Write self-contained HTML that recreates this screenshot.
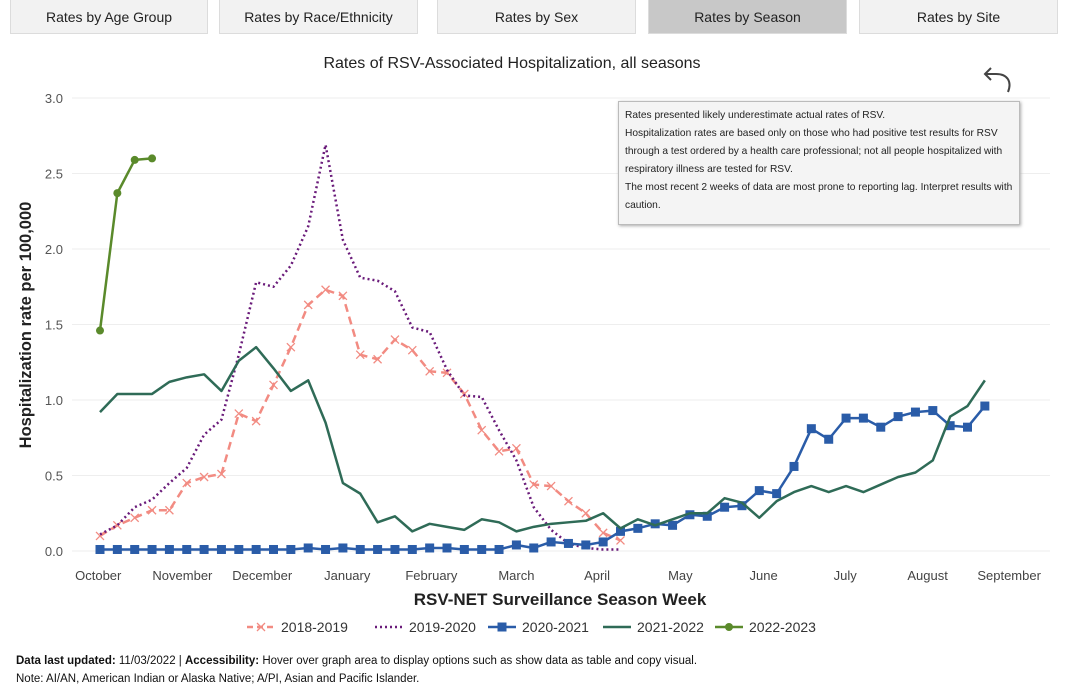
<!DOCTYPE html>
<html><head><meta charset="utf-8"><style>
body{margin:0;width:1080px;height:695px;background:#fff;font-family:"Liberation Sans",sans-serif;overflow:hidden;position:relative}
.tab{position:absolute;top:-2px;height:36px;background:#f2f2f2;border:1px solid #dcdcdc;box-sizing:border-box;text-align:center;line-height:36px;font-size:14px;color:#222}
.tab.sel{background:#c8c8c8}
#info{position:absolute;left:618px;top:101px;width:402px;height:124px;box-sizing:border-box;background:#f4f4f4;border:1px solid #bbb;box-shadow:1px 1px 3px #aaa;font-size:10.2px;line-height:18px;padding:5px 6px;color:#222}
.foot{position:absolute;left:16px;font-size:11.5px;color:#111}
</style></head><body>
<div class="tab" style="left:10px;width:198px">Rates by Age Group</div>
<div class="tab" style="left:219px;width:199px">Rates by Race/Ethnicity</div>
<div class="tab" style="left:437px;width:199px">Rates by Sex</div>
<div class="tab sel" style="left:648px;width:199px">Rates by Season</div>
<div class="tab" style="left:859px;width:199px">Rates by Site</div>
<svg id="chart" width="1080" height="695" style="position:absolute;left:0;top:0">
<text x="512" y="68" text-anchor="middle" font-size="16" fill="#222">Rates of RSV-Associated Hospitalization, all seasons</text>
<path d="M1008,92 C1012,82 1008,74 996,74 L986,74 M991,68 L985,74 L991,80" fill="none" stroke="#444" stroke-width="2"/>
<g id="grid"></g><g id="series"></g>
<text transform="translate(31,325) rotate(-90)" text-anchor="middle" font-size="16.5" font-weight="bold" fill="#222">Hospitalization rate per 100,000</text>
<text x="560" y="605" text-anchor="middle" font-size="17" font-weight="bold" fill="#222">RSV-NET Surveillance Season Week</text>
<g id="legend"></g>
</svg>
<div id="info">Rates presented likely underestimate actual rates of RSV.<br>Hospitalization rates are based only on those who had positive test results for RSV through a test ordered by a health care professional; not all people hospitalized with respiratory illness are tested for RSV.<br>The most recent 2 weeks of data are most prone to reporting lag. Interpret results with caution.</div>
<div class="foot" style="top:655px"><b>Data last updated:</b> 11/03/2022 | <b>Accessibility:</b> Hover over graph area to display options such as show data as table and copy visual.</div>
<div class="foot" style="top:673px">Note: AI/AN, American Indian or Alaska Native; A/PI, Asian and Pacific Islander.</div>
<script>
const yTicks=[0,0.5,1,1.5,2,2.5,3];
const months=["October","November","December","January","February","March","April","May","June","July","August","September"];
const monthWeeks=[-0.1,4.75,9.35,14.25,19.1,24,28.65,33.45,38.25,42.95,47.7,52.4];
const seasons=["2018-2019","2019-2020","2020-2021","2021-2022","2022-2023"];
const s2018=[0.10,0.17,0.22,0.27,0.27,0.45,0.49,0.51,0.91,0.86,1.10,1.35,1.63,1.73,1.69,1.30,1.27,1.40,1.33,1.19,1.18,1.04,0.80,0.66,0.68,0.44,0.43,0.33,0.25,0.12,0.07];
const s2019=[0.11,0.17,0.29,0.34,0.45,0.55,0.77,0.87,1.30,1.78,1.75,1.89,2.15,2.69,2.06,1.81,1.79,1.72,1.48,1.45,1.20,1.03,1.02,0.80,0.60,0.29,0.14,0.05,0.02,0.01,0.01];
const s2020=[0.01,0.01,0.01,0.01,0.01,0.01,0.01,0.01,0.01,0.01,0.01,0.01,0.02,0.01,0.02,0.01,0.01,0.01,0.01,0.02,0.02,0.01,0.01,0.01,0.04,0.02,0.06,0.05,0.04,0.06,0.13,0.15,0.18,0.17,0.24,0.23,0.29,0.30,0.40,0.38,0.56,0.81,0.74,0.88,0.88,0.82,0.89,0.92,0.93,0.83,0.82,0.96];
const s2021=[0.92,1.04,1.04,1.04,1.12,1.15,1.17,1.06,1.26,1.35,1.21,1.06,1.13,0.85,0.45,0.38,0.19,0.23,0.13,0.18,0.16,0.14,0.21,0.19,0.13,0.16,0.18,0.19,0.20,0.25,0.15,0.21,0.17,0.21,0.25,0.25,0.35,0.32,0.22,0.33,0.39,0.43,0.39,0.43,0.39,0.44,0.49,0.52,0.60,0.89,0.96,1.13];
const s2022=[1.46,2.37,2.59,2.60];
const NS="http://www.w3.org/2000/svg";
const X=w=>100+w*17.35, Y=v=>551-v*151;
function mk(t,a,p){const e=document.createElementNS(NS,t);for(const k in a)e.setAttribute(k,a[k]);p.appendChild(e);return e;}
const grid=document.getElementById('grid');
yTicks.forEach(v=>{
 const l=mk('line',{x1:72,x2:1050,y1:Y(v),y2:Y(v),stroke:'#eeeeee'},grid);
 
 
 const t=mk('text',{x:63,y:Y(v)+5,'text-anchor':'end','font-size':13,fill:'#555'},grid);
 t.textContent=v.toFixed(1);
 
 
});
months.forEach((m,i)=>{
 const t=mk('text',{x:X(monthWeeks[i]),y:580,'text-anchor':'middle','font-size':13,fill:'#444'},grid);
 t.textContent=m;
 
 
});
const styles=[
 {c:'#f28b82',d:'8,5',m:'x'},
 {c:'#6a1b7a',d:'2,3',m:null},
 {c:'#2a5ca8',d:null,m:'sq'},
 {c:'#2f6b57',d:null,m:null},
 {c:'#5a8a2b',d:null,m:'dot'}];
const data=[s2018,s2019,s2020,s2021,s2022];
const sg=document.getElementById('series');
function marker(type,x,y,c,p){
 if(type==='sq'){return mk('rect',{x:x-4.5,y:y-4.5,width:9,height:9,fill:c},p);}
 if(type==='dot'){return mk('circle',{cx:x,cy:y,r:4,fill:c},p);}
 if(type==='x'){return mk('path',{d:`M${x-4},${y-4}L${x+4},${y+4}M${x-4},${y+4}L${x+4},${y-4}`,stroke:c,'stroke-width':1.3,fill:'none'},p);}
}
data.forEach((arr,si)=>{
 const st=styles[si];
 const g=mk('g',{},sg);
 
 
 const pl=mk('polyline',{points:arr.map((v,i)=>X(i)+','+Y(v)).join(' '),fill:'none',stroke:st.c,'stroke-width':2.5,'stroke-linejoin':'round'},g);
 if(st.d)pl.setAttribute('stroke-dasharray',st.d);
 
 
 if(st.m)arr.forEach((v,i)=>{
  const mm=marker(st.m,X(i),Y(v),st.c,g);
  
  
 });
});
const lg=document.getElementById('legend');
const lx=[247,375,488,603,715];
seasons.forEach((s,i)=>{
 const st=styles[i];
 const g=mk('g',{},lg);
 
 
 const l=mk('line',{x1:lx[i],x2:lx[i]+28,y1:627,y2:627,stroke:st.c,'stroke-width':2.5},g);
 if(st.d)l.setAttribute('stroke-dasharray',st.d==='8,5'?'6,4':st.d);
 if(st.m)marker(st.m,lx[i]+14,627,st.c,g);
 const t=mk('text',{x:lx[i]+34,y:632,'font-size':14,fill:'#333'},g);
 t.textContent=s;
});
</script>
</body></html>
